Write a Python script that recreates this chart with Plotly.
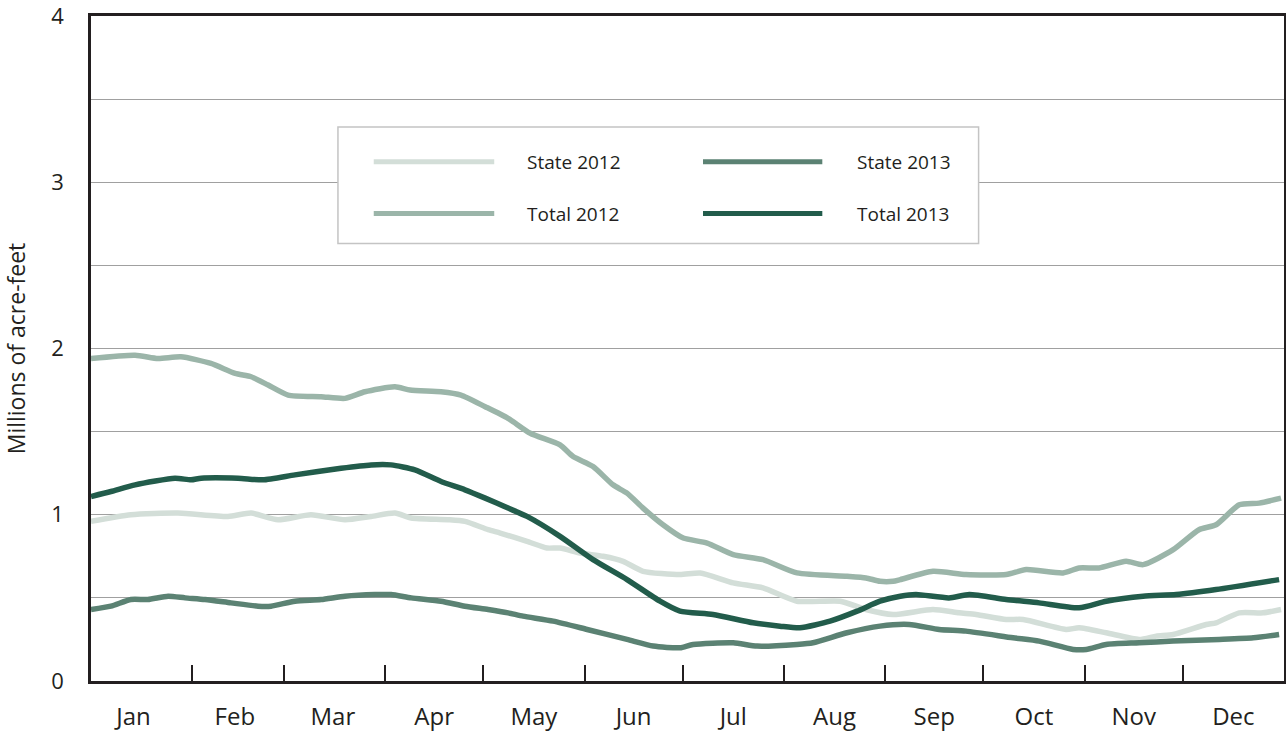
import plotly.graph_objects as go

# ---------------- data (day of year, millions of acre-feet) ----------------
total_2012_day = [0, 13.5, 20.5, 27.5, 36.7, 44.1, 49.0, 54.2, 60.3, 70.4, 77.7, 83.8, 93.0, 97.6,
                  107.1, 113.2, 120.6, 127.6, 134.4, 143.5, 147.5, 153.6, 159.7, 164.0, 168.9, 175.0,
                  181.2, 188.5, 196.5, 205.6, 216.0, 231.3, 237.1, 241.4, 245.4, 247.6, 257.6, 267.7,
                  280.0, 286.1, 297.4, 302.3, 308.4, 316.7, 321.9, 331.1, 339.0, 344.2, 351.3, 357.4, 364.1]
total_2012_val = [1.94, 1.96, 1.94, 1.95, 1.91, 1.85, 1.83, 1.78, 1.72, 1.71, 1.70, 1.74, 1.77, 1.75,
                  1.74, 1.72, 1.65, 1.58, 1.49, 1.42, 1.35, 1.29, 1.18, 1.13, 1.04, 0.94,
                  0.86, 0.83, 0.76, 0.73, 0.65, 0.63, 0.62, 0.60, 0.60, 0.61, 0.66, 0.64,
                  0.64, 0.67, 0.65, 0.68, 0.68, 0.72, 0.70, 0.79, 0.91, 0.94, 1.06, 1.07, 1.10]

total_2013_day = [0, 6.1, 13.5, 25.7, 30.6, 33.7, 45.0, 52.6, 62.4, 76.5, 85.7, 91.8, 99.1, 107.1,
                  114.4, 120.6, 127.6, 133.4, 143.5, 153.6, 164.0, 174.1, 180.2, 190.3, 202.6, 210.8,
                  216.9, 226.1, 234.4, 241.4, 247.6, 252.4, 262.5, 268.7, 280.0, 290.1, 302.3, 310.6,
                  321.9, 332.0, 344.2, 363.5]
total_2013_val = [1.11, 1.14, 1.18, 1.22, 1.21, 1.22, 1.22, 1.21, 1.24, 1.28, 1.30, 1.30, 1.27, 1.20,
                  1.15, 1.10, 1.04, 0.99, 0.87, 0.73, 0.61, 0.48, 0.42, 0.40, 0.35, 0.33,
                  0.32, 0.36, 0.42, 0.48, 0.51, 0.52, 0.50, 0.52, 0.49, 0.47, 0.44, 0.48,
                  0.51, 0.52, 0.55, 0.61]

state_2012_day = [0, 12.2, 26.6, 41.9, 49.0, 57.2, 67.3, 77.7, 85.7, 93.0, 98.0, 109.2, 114.4, 121.5,
                  125.2, 133.4, 139.5, 143.5, 149.6, 156.7, 162.8, 168.9, 180.2, 186.4, 196.5, 205.6,
                  216.0, 229.2, 237.1, 245.4, 257.6, 265.6, 270.8, 280.0, 285.2, 298.3, 302.3, 310.6,
                  320.7, 325.9, 331.1, 341.2, 344.2, 351.3, 358.6, 364.1]
state_2012_val = [0.96, 1.00, 1.01, 0.99, 1.01, 0.97, 1.00, 0.97, 0.99, 1.01, 0.98, 0.97, 0.96, 0.91,
                  0.89, 0.84, 0.80, 0.80, 0.77, 0.75, 0.72, 0.66, 0.64, 0.65, 0.59, 0.56,
                  0.48, 0.48, 0.43, 0.40, 0.43, 0.41, 0.40, 0.37, 0.37, 0.31, 0.32, 0.29,
                  0.25, 0.27, 0.28, 0.34, 0.35, 0.41, 0.41, 0.43]

state_2013_day = [0, 6.1, 12.2, 17.4, 23.6, 28.8, 34.9, 42.8, 51.1, 55.1, 62.4, 70.4, 77.7, 86.9,
                  91.8, 98.0, 107.1, 114.4, 121.5, 127.6, 132.2, 141.4, 151.8, 164.0, 172.0, 180.2,
                  184.2, 196.5, 203.8, 216.0, 220.9, 231.3, 241.4, 250.3, 259.5, 267.7, 282.1, 290.1,
                  300.5, 304.5, 310.6, 320.7, 331.1, 345.2, 355.6, 363.5]
state_2013_val = [0.43, 0.45, 0.49, 0.49, 0.51, 0.50, 0.49, 0.47, 0.45, 0.45, 0.48, 0.49, 0.51, 0.52,
                  0.52, 0.50, 0.48, 0.45, 0.43, 0.41, 0.39, 0.36, 0.31, 0.25, 0.21, 0.20,
                  0.22, 0.23, 0.21, 0.22, 0.23, 0.29, 0.33, 0.34, 0.31, 0.30, 0.26, 0.24,
                  0.19, 0.19, 0.22, 0.23, 0.24, 0.25, 0.26, 0.28]

month_labels = ["Jan", "Feb", "Mar", "Apr", "May", "Jun", "Jul", "Aug", "Sep", "Oct", "Nov", "Dec"]
month_label_pos = [13, 44, 74, 105, 135.5, 166, 196.5, 227.5, 258, 288.5, 319, 349.5]
month_bounds = [31, 59, 90, 120, 151, 181, 212, 243, 273, 304, 334]
y_labels = [0, 1, 2, 3, 4]

series = [
    ("State 2012", state_2012_day, state_2012_val, "#d3ded8"),
    ("Total 2012", total_2012_day, total_2012_val, "#9bb5a9"),
    ("State 2013", state_2013_day, state_2013_val, "#5b8273"),
    ("Total 2013", total_2013_day, total_2013_val, "#225c4b"),
]

FONT = "Open Sans"
INK = "#231f20"

fig = go.Figure()
for name, xd, yd, col in series:
    fig.add_trace(go.Scatter(x=xd, y=yd, name=name, mode="lines",
                             line=dict(color=col, width=5.5, shape="spline", smoothing=0.6),
                             showlegend=False, hoverinfo="x+y+name"))

fig.update_layout(
    width=1286, height=732,
    margin=dict(l=91, r=2, t=16, b=51),
    paper_bgcolor="white", plot_bgcolor="white",
    font=dict(family=FONT, color=INK, size=20),
    xaxis=dict(range=[0, 365], showgrid=False, zeroline=False, automargin=False,
               tickmode="array", tickvals=month_label_pos, ticktext=month_labels,
               ticks="", ticklabelstandoff=12, tickfont=dict(size=24, family=FONT, color=INK),
               showline=True, linecolor=INK, linewidth=2.5, mirror=True,
               minor=dict(tickmode="array", tickvals=month_bounds, ticks="inside",
                          ticklen=16, tickwidth=1.5, tickcolor=INK, showgrid=False)),
    yaxis=dict(range=[0, 4], tickmode="array", tickvals=y_labels, automargin=False,
               showgrid=True, gridcolor="#a0a0a0", gridwidth=1, zeroline=False,
               ticks="", ticklabelstandoff=20, ticklabeloverflow="allow",
               tickfont=dict(size=22, family=FONT, color=INK),
               showline=True, linecolor=INK, linewidth=2.5, mirror=True,
               minor=dict(dtick=0.5, tick0=0, showgrid=True, gridcolor="#a0a0a0", gridwidth=1),
               title=dict(text="Millions of acre-feet", font=dict(size=23, family=FONT, color=INK),
                          standoff=23)),
)

# ---------------- legend box (drawn as layout decoration) ----------------
box = dict(x0=0.207, x1=0.744, y0=0.658, y1=0.833)
fig.add_shape(type="rect", xref="paper", yref="paper", layer="above",
              x0=box["x0"], x1=box["x1"], y0=box["y0"], y1=box["y1"],
              line=dict(color="#c4c4c4", width=1.5), fillcolor="white")
legend_cells = [  # (series index, line x0, line x1, text x, y)
    (0, 0.237, 0.338, 0.364, 0.781),
    (2, 0.513, 0.613, 0.640, 0.781),
    (1, 0.237, 0.338, 0.364, 0.703),
    (3, 0.513, 0.613, 0.640, 0.703),
]
for idx, lx0, lx1, tx, ly in legend_cells:
    name, _, _, col = series[idx]
    fig.add_shape(type="line", xref="paper", yref="paper", layer="above",
                  x0=lx0, x1=lx1, y0=ly, y1=ly, line=dict(color=col, width=5))
    fig.add_annotation(xref="paper", yref="paper", x=tx, y=ly, text=name,
                       showarrow=False, xanchor="left", yanchor="middle",
                       font=dict(size=19, family=FONT, color=INK))

fig.write_html("out.html", config={"displayModeBar": False},
               post_script="document.body.style.margin='0px';")
